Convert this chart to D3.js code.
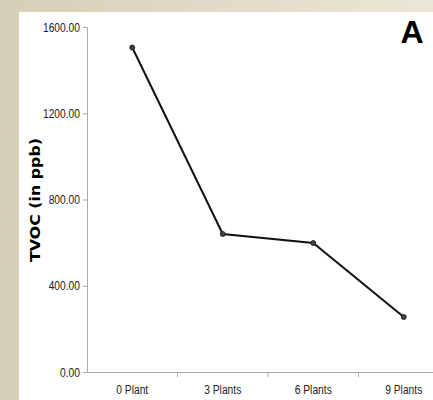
<!DOCTYPE html>
<html>
<head>
<meta charset="utf-8">
<script src="https://cdn.jsdelivr.net/npm/d3@7"></script>
<style>
  body { margin: 0; }
  svg { display: block; }
</style>
</head>
<body>
<div class="chart"></div>
<script>
var svgWidth = 433;
var svgHeight = 400;

// data
var categories = ["0 Plant", "3 Plants", "6 Plants", "9 Plants"];
var tvoc = [1505, 640, 598, 255];
var yTicks = [0, 400, 800, 1200, 1600];

var svg = d3.select(".chart")
  .append("svg")
  .attr("width", svgWidth)
  .attr("height", svgHeight);

// beige slide background
var defs = svg.append("defs");
var grad = defs.append("linearGradient").attr("id", "bg")
  .attr("x1", "0").attr("y1", "0").attr("x2", "1").attr("y2", "0");
grad.append("stop").attr("offset", "0").attr("stop-color", "#d6cfb6");
grad.append("stop").attr("offset", "1").attr("stop-color", "#ebe7d8");

svg.append("rect").attr("width", svgWidth).attr("height", svgHeight).attr("fill", "url(#bg)");
svg.append("rect").attr("x", 0).attr("y", 0).attr("width", 19).attr("height", svgHeight).attr("fill", "#d6d0b8");
svg.append("rect").attr("x", 19).attr("y", 12).attr("width", svgWidth - 19).attr("height", svgHeight - 12).attr("fill", "#ffffff");

var x0 = 87, yBottom = 372, yTop = 27;
var band = 90.5;

var x = d3.scaleBand()
  .domain(categories)
  .range([x0, x0 + band * categories.length]);

var y = d3.scaleLinear()
  .domain([0, 1600])
  .range([yBottom, yTop]);

// y axis
var leftAxis = d3.axisLeft(y)
  .tickValues(yTicks)
  .tickFormat(d3.format(".2f"))
  .tickSizeOuter(0)
  .tickSize(4)
  .tickPadding(3);

var yAxis = svg.append("g")
  .attr("transform", `translate(${x0}, 0)`)
  .call(leftAxis);

// x axis
var bottomAxis = d3.axisBottom(x)
  .tickSize(0)
  .tickPadding(13);

var xAxis = svg.append("g")
  .attr("transform", `translate(0, ${yBottom})`)
  .call(bottomAxis);

// tick marks between categories
xAxis.selectAll(".sep")
  .data(categories.slice(1))
  .enter()
  .append("line")
  .attr("class", "sep")
  .attr("x1", d => x(d))
  .attr("x2", d => x(d))
  .attr("y1", 0)
  .attr("y2", 5);

svg.selectAll(".domain, .tick line, .sep")
  .attr("stroke", "#a8a8a8")
  .attr("stroke-width", 1);

// condensed look for tick labels
svg.selectAll(".tick text")
  .style("font-family", "'Liberation Sans', Arial, sans-serif")
  .style("font-size", "12.5px")
  .attr("fill", "#222")
  .each(function () {
    var t = d3.select(this);
    var tx = +t.attr("x") || 0;
    var ty = +t.attr("y") || 0;
    t.attr("x", 0).attr("y", 0)
      .attr("transform", `translate(${tx}, ${ty}) scale(0.82, 1)`);
  });

// line
var line = d3.line()
  .x((d, i) => x(categories[i]) + x.bandwidth() / 2)
  .y(d => y(d));

svg.append("path")
  .datum(tvoc)
  .attr("d", line)
  .attr("fill", "none")
  .attr("stroke", "#111")
  .attr("stroke-width", 2);

svg.selectAll(".pt")
  .data(tvoc)
  .enter()
  .append("circle")
  .attr("class", "pt")
  .attr("cx", (d, i) => x(categories[i]) + x.bandwidth() / 2)
  .attr("cy", d => y(d))
  .attr("r", 2.5)
  .attr("fill", "#444")
  .attr("stroke", "#111")
  .attr("stroke-width", 0.8);

// y label
svg.append("text")
  .attr("transform", "translate(40, 200) rotate(-90)")
  .attr("text-anchor", "middle")
  .style("font-family", "'DejaVu Sans', Verdana, sans-serif")
  .style("font-weight", "bold")
  .style("font-size", "13.5px")
  .attr("textLength", 124)
  .attr("lengthAdjust", "spacingAndGlyphs")
  .text("TVOC (in ppb)");

// panel letter
svg.append("text")
  .attr("x", 412)
  .attr("y", 43)
  .attr("text-anchor", "middle")
  .style("font-family", "'Liberation Sans', Arial, sans-serif")
  .style("font-weight", "bold")
  .style("font-size", "32px")
  .text("A");
</script>
</body>
</html>
